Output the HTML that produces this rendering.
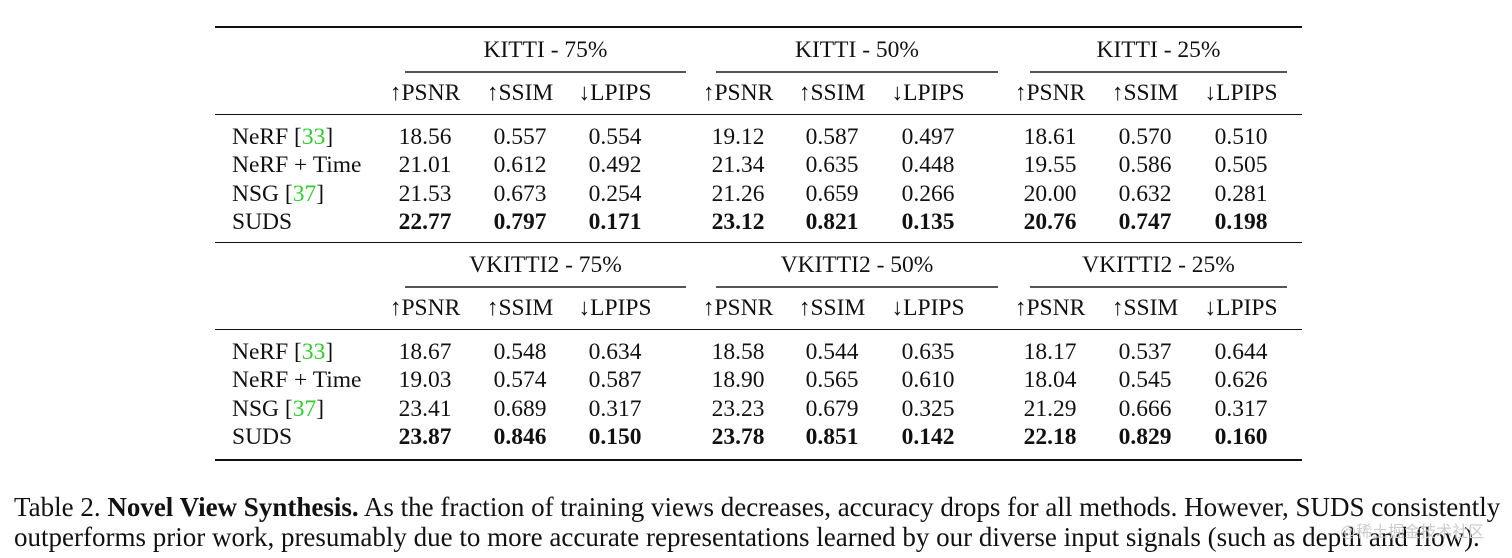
<!DOCTYPE html>
<html><head><meta charset="utf-8"><style>
body{margin:0;width:1512px;height:558px;background:#fff;position:relative;overflow:hidden;font-family:"Liberation Serif",serif;color:#111}
.t{position:absolute;height:26px;line-height:26px;font-size:23.5px;white-space:nowrap}
.c{transform:translateX(-50%)}
.r{position:absolute;background:#111;left:215px;width:1087px}
.u{position:absolute;background:#555;height:2px}
.g{color:#2ecc2e}
b{font-weight:bold}
.cap{position:absolute;left:14px;font-size:27px;line-height:30px;white-space:nowrap}
</style></head><body>
<div class="r" style="top:26px;height:2px"></div>
<div class="r" style="top:114px;height:1px"></div>
<div class="r" style="top:242px;height:1px"></div>
<div class="r" style="top:329px;height:1px"></div>
<div class="r" style="top:459px;height:2px"></div>
<div id="tbl"></div>
<div class="cap" style="top:492px">Table 2. <b>Novel View Synthesis.</b> As the fraction of training views decreases, accuracy drops for all methods. However, SUDS consistently</div>
<div class="cap" style="top:522px">outperforms prior work, presumably due to more accurate representations learned by our diverse input signals (such as depth and flow).</div>
<div style="position:absolute;left:1340px;top:518px;font-size:16px;color:#ccc;font-family:'Liberation Sans','Noto Sans CJK SC',sans-serif">@稀土掘金技术社区</div>
<script>
const groups1=["KITTI - 75%","KITTI - 50%","KITTI - 25%"];
const groups2=["VKITTI2 - 75%","VKITTI2 - 50%","VKITTI2 - 25%"];
const metrics=["↑PSNR","↑SSIM","↓LPIPS"];
const methods=[["NeRF [","33","]"],["NeRF + Time"],["NSG [","37","]"],["SUDS"]];
const kitti=[["18.56","0.557","0.554","19.12","0.587","0.497","18.61","0.570","0.510"],
["21.01","0.612","0.492","21.34","0.635","0.448","19.55","0.586","0.505"],
["21.53","0.673","0.254","21.26","0.659","0.266","20.00","0.632","0.281"],
["22.77","0.797","0.171","23.12","0.821","0.135","20.76","0.747","0.198"]];
const vkitti=[["18.67","0.548","0.634","18.58","0.544","0.635","18.17","0.537","0.644"],
["19.03","0.574","0.587","18.90","0.565","0.610","18.04","0.545","0.626"],
["23.41","0.689","0.317","23.23","0.679","0.325","21.29","0.666","0.317"],
["23.87","0.846","0.150","23.78","0.851","0.142","22.18","0.829","0.160"]];
const colX=[425,520,615,738,832,928,1050,1145,1241];
const gX=[[405,686],[716,998],[1030,1287]];
const T=document.getElementById('tbl');
function txt(x,y,html,center){const d=document.createElement('div');d.className='t'+(center?' c':'');d.style.left=x+'px';d.style.top=(y-13)+'px';d.innerHTML=html;T.appendChild(d);return d;}
function section(groups,data,y0,name){
  groups.forEach((g,i)=>{const d=txt((gX[i][0]+gX[i][1])/2,y0,g,true);
    
    
    const u=document.createElement('div');u.className='u';u.style.left=gX[i][0]+'px';u.style.width=(gX[i][1]-gX[i][0])+'px';u.style.top=(y0+21)+'px';
    
    
    T.appendChild(u);
    metrics.forEach((m,j)=>{const h=txt(colX[i*3+j],y0+43,m,true);
      
      });});
  const rowY=[y0+87,y0+115,y0+144,y0+172];
  methods.forEach((m,r)=>{const lab=m.length>1?m[0]+'<span class="g">'+m[1]+'</span>'+m[2]:m[0];
    const l=txt(232,rowY[r],lab,false);
    
    
    data[r].forEach((v,k)=>{const c=txt(colX[k],rowY[r],r===3?'<b>'+v+'</b>':v,true);
      
      });});
}
section(groups1,kitti,50,'kitti');
section(groups2,vkitti,265,'vkitti2');
</script>
</body></html>
